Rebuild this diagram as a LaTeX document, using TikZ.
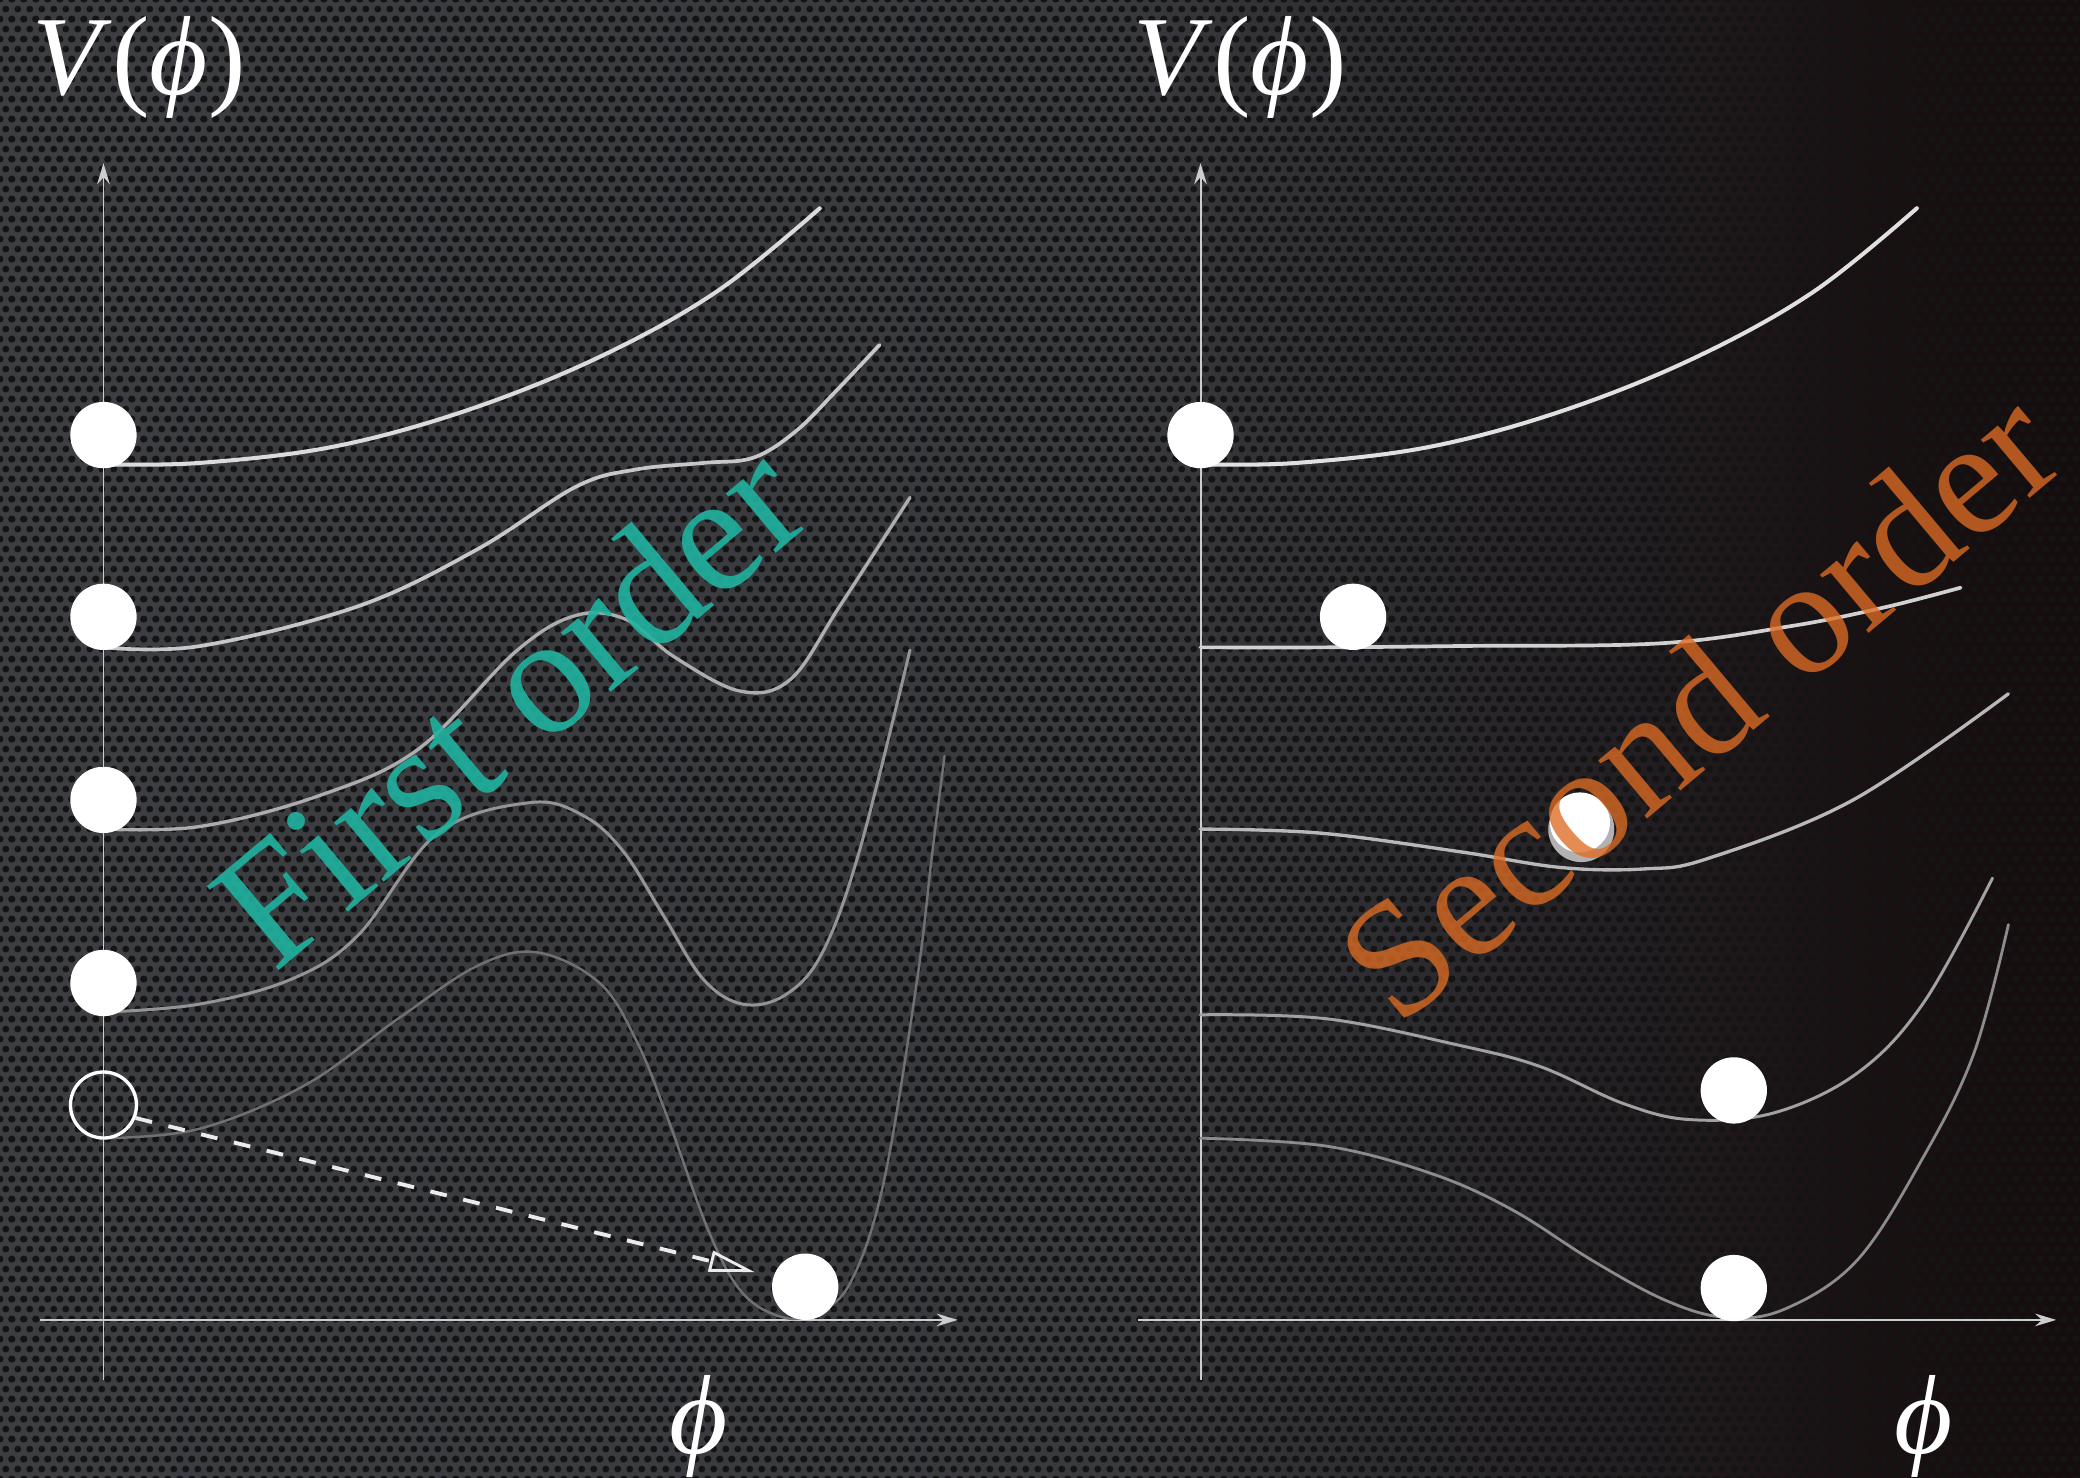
\documentclass[tikz,border=0pt]{standalone}
\usepackage{fontspec}
\setmainfont{Liberation Serif}
\usetikzlibrary{arrows.meta,patterns}
\definecolor{axisgray}{RGB}{205,205,208}
\definecolor{teal1}{RGB}{32,178,160}
\definecolor{orange1}{RGB}{222,108,36}
\pgfdeclarehorizontalshading{bgshade}{100bp}{rgb(0bp)=(0.240,0.244,0.260); rgb(25bp)=(0.240,0.244,0.260); rgb(52bp)=(0.222,0.226,0.242); rgb(62bp)=(0.150,0.140,0.155); rgb(69bp)=(0.100,0.068,0.074); rgb(75bp)=(0.082,0.046,0.050); rgb(100bp)=(0.082,0.046,0.050)}
\pgfdeclarepatternformonly{hexholes}{\pgfpointorigin}{\pgfpoint{3.35pt}{5.8pt}}{\pgfpoint{3.35pt}{5.8pt}}{%
  \pgfpathcircle{\pgfpoint{0pt}{0pt}}{1.0pt}%
  \pgfpathcircle{\pgfpoint{3.35pt}{0pt}}{1.0pt}%
  \pgfpathcircle{\pgfpoint{0pt}{5.8pt}}{1.0pt}%
  \pgfpathcircle{\pgfpoint{3.35pt}{5.8pt}}{1.0pt}%
  \pgfpathcircle{\pgfpoint{1.675pt}{2.9pt}}{1.0pt}%
  \pgfusepath{fill}}
\begin{document}
\begin{tikzpicture}[x=0.013265cm,y=-0.013265cm,
  ball/.style={circle,fill=white,inner sep=0pt,minimum size=0.663cm},
  curve/.style={line width=1.0pt,line cap=round,smooth,tension=0.6},
  axisline/.style={line width=0.55pt,draw=axisgray,-{Stealth[length=6pt,width=3.6pt,inset=2pt]}},
  lbl/.style={text=white,font=\fontsize{32}{38}\selectfont,inner sep=0pt},
  bigtext/.style={inner sep=0pt,rotate=40,font=\fontsize{48}{56}\selectfont},
]
\useasboundingbox (0,0) rectangle (1568,1114);
% background
\shade[shading=bgshade] (0,0) rectangle (1568,1114);
\fill[pattern=hexholes,pattern color=black!92] (0,0) rectangle (1568,1114);

% ---------- left panel ----------
\coordinate (lyb) at (78,1040);
\coordinate (lyt) at (78,123);
\coordinate (lxl) at (30,995);
\coordinate (lxr) at (722,995);
\draw[axisline] (lyb) -- (lyt);
\draw[axisline] (lxl) -- (lxr);

\draw[curve,draw=white!86!black,line width=1.15pt] plot coordinates {(78,350) (150,349) (250,337) (350,310) (450,270) (540,220) (618,157)};
\draw[curve,draw=white!78!black,line width=1.05pt] plot coordinates {(78,488) (151,487) (270,457) (360,414) (434,367) (479,354) (530,349) (568,345) (600,325) (630,295) (663,260)};
\draw[curve,draw=white!68!black,line width=0.95pt] plot coordinates {(78,625) (151,623) (240,600) (315,565) (389,491) (434,464) (472,467) (508,495) (558,521) (596,512) (633,457) (686,375)};
\draw[curve,draw=white!58!black,line width=0.85pt] plot coordinates {(78,763) (150,757) (220,738) (270,705) (330,628) (400,605) (440,615) (470,642) (500,690) (530,738) (560,757) (592,750) (620,718) (648,641) (686,490)};
\draw[curve,draw=white!44!black,line width=0.7pt] plot coordinates {(78,858) (150,851) (230,818) (300,768) (360,728) (405,718) (452,741) (480,785) (503,842) (535,930) (560,975) (590,993) (615,990) (641,967) (666,892) (691,741) (703,641) (712,570)};

\node[ball] (l1) at (78,328) {};
\node[ball] (l2) at (78,465) {};
\node[ball] (l3) at (78,603) {};
\node[ball] (l4) at (78,741) {};
\node[circle,draw=white,line width=0.95pt,inner sep=0pt,minimum size=0.66cm] (lo) at (78,833) {};
\node[ball] (lf) at (607,970) {};
\coordinate (tipend) at (569,959);
\draw[white!92!black,line width=1.1pt,dash pattern=on 4.8pt off 4.8pt,
  -{Triangle[open,length=13pt,width=6pt,line width=0.8pt]}] (lo.-22) -- (tipend);

\node[lbl] (lv) at (105,51) {\textit{V}(\textit{ϕ})};
\node[lbl] (lphi) at (527,1075) {\textit{ϕ}};

\node[bigtext,text=teal1,opacity=0.9] (t1) at (383,530) {First order};

% ---------- right panel ----------
\coordinate (ryb) at (905,1040);
\coordinate (ryt) at (905,123);
\coordinate (rxl) at (858,995);
\coordinate (rxr) at (1550,995);
\draw[axisline] (ryb) -- (ryt);
\draw[axisline] (rxl) -- (rxr);

\draw[curve,draw=white!88!black,line width=1.15pt] plot coordinates {(905,350) (977,349) (1077,337) (1177,310) (1277,270) (1367,220) (1445,157)};
\draw[curve,draw=white!82!black,line width=1.05pt] plot coordinates {(905,488) (1000,488) (1100,487) (1251,485) (1350,472) (1420,458) (1478,443)};
\draw[curve,draw=white!72!black,line width=0.95pt] plot coordinates {(905,625) (995,628) (1100,642) (1177,654) (1240,655) (1288,647) (1397,603) (1514,523)};
\draw[curve,draw=white!63!black,line width=0.85pt] plot coordinates {(905,765) (1000,768) (1100,788) (1161,804) (1224,832) (1274,844) (1337,839) (1400,809) (1450,756) (1502,662)};
\draw[curve,draw=white!55!black,line width=0.8pt] plot coordinates {(905,858) (1000,864) (1080,885) (1140,912) (1200,950) (1255,980) (1300,993) (1345,987) (1400,950) (1450,872) (1488,794) (1514,697)};

\node[ball] (r1) at (905,328) {};
\node[ball] (r2) at (1020,465) {};
\node[circle,fill=white!70!black,inner sep=0pt,minimum size=0.66cm] (r3s) at (1192,625) {};
\node[ball,minimum size=0.6cm] (r3) at (1191,620) {};
\node[ball] (r4) at (1307,822) {};
\node[ball] (r5) at (1307,971) {};

\node[lbl] (rv) at (935,51) {\textit{V}(\textit{ϕ})};
\node[lbl] (rphi) at (1450,1075) {\textit{ϕ}};

\node[bigtext,text=orange1,opacity=0.78,font=\fontsize{47}{56}\selectfont] (t2) at (1280,530) {Second order};
\end{tikzpicture}
\end{document}
